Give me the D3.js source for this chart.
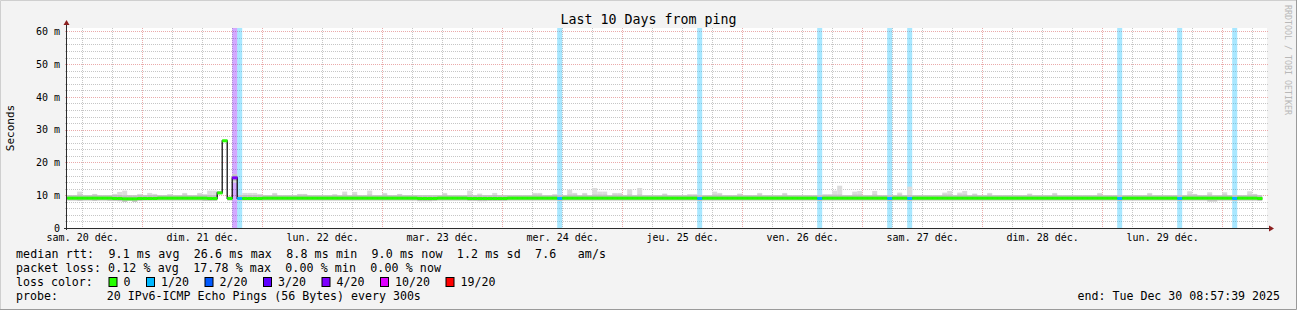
<!DOCTYPE html>
<html>
<head>
<meta charset="utf-8">
<script src="https://cdn.jsdelivr.net/npm/d3@7"></script>
<style>
  body { margin: 0; background: #f3f3f3; }
  svg text { white-space: pre; }
</style>
</head>
<body>
<div id="chart"></div>
<script>
// Graph window (server local time, handled as UTC)
const graphStart = Date.UTC(2025, 11, 20, 8, 57, 39);
const graphEnd = Date.UTC(2025, 11, 30, 8, 57, 39);
const firstStep = Date.UTC(2025, 11, 20, 9); // hourly consolidated steps

// Median rtt per hour, ms (one row per day)
const medianRtt = [
  9.1, 9.1, 9.1, 9.1, 9.1, 9.1, 9.1, 9.1, 9.1, 9.0, 9.0, 8.9, 8.9, 8.9, 9.0,
  9.0, 9.0, 9.0, 9.1, 9.1, 9.1, 9.1, 9.1, 9.1, 9.1, 9.1, 9.1, 9.1, 9.0, 9.0, 10.7, 26.6, 9.0, 15.3, 9.0, 9.0, 9.0, 9.0, 9.0,
  9.1, 9.1, 9.1, 9.1, 9.1, 9.1, 9.1, 9.1, 9.1, 9.1, 9.1, 9.1, 9.1, 9.1, 9.1, 9.1, 9.1, 9.1, 9.1, 9.1, 9.1, 9.1, 9.1, 9.1,
  9.1, 9.1, 9.1, 9.1, 9.1, 9.1, 9.1, 9.0, 9.0, 9.0, 9.0, 9.1, 9.1, 9.1, 9.1, 9.1, 9.1, 9.0, 9.0, 9.0, 9.0, 9.0, 9.0, 9.0,
  9.0, 9.1, 9.1, 9.1, 9.1, 9.1, 9.1, 9.1, 9.1, 9.1, 9.1, 9.0, 9.1, 9.1, 9.1, 9.1, 9.1, 9.1, 9.1, 9.1, 9.1, 9.1, 9.1, 9.1,
  9.1, 9.1, 9.1, 9.1, 9.1, 9.1, 9.1, 9.1, 9.1, 9.1, 9.1, 9.1, 9.1, 9.1, 9.1, 9.0, 9.1, 9.1, 9.1, 9.1, 9.1, 9.1, 9.1, 9.1,
  9.1, 9.1, 9.1, 9.1, 9.1, 9.1, 9.1, 9.1, 9.1, 9.1, 9.1, 9.1, 9.1, 9.1, 9.1, 9.0, 9.1, 9.1, 9.1, 9.1, 9.1, 9.1, 9.1, 9.1,
  9.1, 9.1, 9.1, 9.1, 9.1, 9.0, 9.1, 9.1, 9.1, 9.0, 9.1, 9.1, 9.1, 9.1, 9.1, 9.1, 9.1, 9.1, 9.1, 9.1, 9.1, 9.1, 9.1, 9.1,
  9.1, 9.1, 9.1, 9.1, 9.1, 9.1, 9.1, 9.1, 9.1, 9.1, 9.1, 9.1, 9.1, 9.1, 9.1, 9.1, 9.1, 9.1, 9.1, 9.1, 9.1, 9.1, 9.1, 9.1,
  9.1, 9.1, 9.1, 9.0, 9.1, 9.1, 9.1, 9.1, 9.1, 9.1, 9.1, 9.1, 9.1, 9.1, 9.1, 9.0, 9.1, 9.1, 9.1, 9.1, 9.1, 9.1, 9.1, 9.1,
  9.1, 9.1, 9.0, 9.1, 9.1, 9.1, 9.1, 9.0
];

// Smoke: highest and lowest ping per hour, ms
const smokeMax = [
  10.0, 10.0, 11.1, 10.0, 10.0, 10.4, 10.0, 10.0, 10.0, 10.4, 11.0, 11.4, 10.0, 10.0, 10.4,
  10.0, 10.7, 10.4, 10.0, 10.0, 10.2, 10.0, 10.0, 10.7, 10.0, 10.0, 10.7, 10.2, 11.4, 11.4, 11.2, 26.9, 9.6, 16.4, 10.0, 10.7, 10.7, 10.7, 10.4,
  10.0, 10.0, 10.7, 10.0, 10.0, 10.0, 10.0, 10.4, 10.4, 10.0, 10.0, 10.0, 10.0, 10.0, 10.2, 10.0, 11.1, 10.0, 11.0, 10.0, 10.0, 11.4, 10.0, 10.0,
  10.7, 10.0, 10.0, 10.4, 10.0, 10.0, 10.0, 10.0, 10.0, 10.0, 10.0, 10.0, 10.7, 10.0, 10.0, 10.0, 10.0, 11.4, 10.0, 10.5, 10.0, 10.0, 10.7, 10.0,
  10.0, 10.0, 10.0, 10.0, 10.0, 10.0, 10.7, 10.7, 10.0, 10.0, 10.2, 10.0, 10.0, 11.7, 10.7, 10.0, 10.7, 10.0, 12.2, 11.1, 11.1, 10.0, 10.7, 10.7,
  10.0, 11.9, 10.0, 12.2, 10.0, 10.0, 10.0, 10.0, 10.5, 10.0, 10.0, 10.0, 10.0, 10.2, 10.2, 10.0, 10.0, 10.0, 11.1, 10.7, 10.0, 10.0, 10.0, 10.5,
  10.0, 10.0, 10.0, 10.7, 10.0, 10.0, 10.0, 10.0, 10.7, 10.0, 10.0, 10.0, 10.0, 10.0, 10.0, 10.0, 10.2, 10.2, 11.4, 12.9, 10.0, 10.0, 11.1, 11.3,
  10.0, 10.0, 11.3, 10.0, 10.0, 10.0, 10.0, 10.8, 10.0, 12.6, 10.0, 10.0, 10.0, 10.0, 10.0, 10.0, 10.8, 11.3, 10.0, 10.8, 11.3, 10.0, 10.5, 10.0,
  10.0, 10.7, 10.0, 10.0, 10.0, 10.0, 10.0, 10.0, 10.0, 10.5, 10.0, 10.0, 10.0, 10.0, 10.7, 10.0, 10.0, 10.0, 10.0, 10.0, 10.0, 10.0, 10.0, 10.7,
  10.0, 10.0, 10.0, 10.0, 10.0, 10.0, 10.0, 10.0, 10.0, 10.7, 10.0, 10.0, 10.0, 10.0, 10.0, 10.0, 10.0, 11.2, 10.4, 10.0, 10.0, 10.9, 10.0, 10.0,
  10.9, 10.0, 10.0, 10.0, 10.0, 11.2, 10.4, 10.0
];

const smokeMin = [
  8.4, 8.4, 8.3, 8.4, 8.4, 8.3, 8.4, 8.4, 8.3, 8.3, 8.2, 8.0, 8.3, 8.0, 8.3,
  8.4, 8.4, 8.4, 8.4, 8.4, 8.4, 8.4, 8.4, 8.4, 8.4, 8.4, 8.4, 8.3, 8.3, 8.3, 10.4, 26.3, 8.4, 13.8, 8.4, 8.4, 8.4, 8.4, 8.4,
  8.4, 8.4, 8.4, 8.4, 8.4, 8.4, 8.4, 8.4, 8.4, 8.4, 8.4, 8.4, 8.4, 8.4, 8.4, 8.4, 8.4, 8.4, 8.4, 8.4, 8.4, 8.4, 8.4, 8.4,
  8.4, 8.4, 8.4, 8.4, 8.4, 8.4, 8.4, 8.2, 8.2, 8.2, 8.3, 8.4, 8.4, 8.4, 8.4, 8.4, 8.4, 8.3, 8.3, 8.2, 8.2, 8.3, 8.3, 8.3,
  8.3, 8.4, 8.4, 8.4, 8.4, 8.4, 8.4, 8.4, 8.4, 8.4, 8.4, 8.3, 8.4, 8.4, 8.4, 8.4, 8.4, 8.4, 8.4, 8.4, 8.4, 8.4, 8.4, 8.4,
  8.4, 8.4, 8.4, 8.4, 8.4, 8.4, 8.4, 8.4, 8.4, 8.4, 8.4, 8.4, 8.4, 8.4, 8.4, 8.3, 8.4, 8.4, 8.4, 8.4, 8.4, 8.4, 8.4, 8.4,
  8.4, 8.4, 8.4, 8.4, 8.4, 8.4, 8.4, 8.4, 8.4, 8.4, 8.4, 8.4, 8.4, 8.4, 8.4, 8.3, 8.4, 8.4, 8.4, 8.4, 8.4, 8.4, 8.4, 8.4,
  8.4, 8.4, 8.4, 8.4, 8.4, 8.3, 8.4, 8.4, 8.4, 8.3, 8.4, 8.4, 8.4, 8.4, 8.4, 8.4, 8.4, 8.4, 8.4, 8.4, 8.4, 8.4, 8.4, 8.4,
  8.4, 8.4, 8.4, 8.4, 8.4, 8.4, 8.4, 8.4, 8.4, 8.4, 8.4, 8.4, 8.4, 8.4, 8.4, 8.4, 8.4, 8.4, 8.4, 8.4, 8.4, 8.4, 8.4, 8.4,
  8.4, 8.4, 8.4, 8.3, 8.4, 8.4, 8.4, 8.4, 8.4, 8.4, 8.4, 8.4, 8.4, 8.4, 8.4, 8.3, 8.4, 8.4, 8.4, 8.4, 8.4, 8.0, 8.0, 8.4,
  8.4, 8.4, 8.3, 8.4, 8.4, 8.4, 8.4, 8.3
];

// Hours with packet loss and the number of pings lost (of 20)
const lossTimes = [
  "2025-12-21T18:00", "2025-12-21T19:00", "2025-12-24T11:00", "2025-12-25T15:00",
  "2025-12-26T15:00", "2025-12-27T05:00", "2025-12-27T09:00", "2025-12-29T03:00",
  "2025-12-29T15:00", "2025-12-30T02:00"
];
const lossPings = [4, 1, 1, 1, 1, 1, 1, 1, 1, 1];

const lossLabels = ["0", "1/20", "2/20", "3/20", "4/20", "10/20", "19/20"];
const lossColors = ["#26ff00", "#00b8ff", "#0059ff", "#5e00ff", "#7e00ff", "#dd00ff", "#ff0000"];

const yTickValues = [0, 10, 20, 30, 40, 50, 60];
const yTickLabels = ["0", "10 m", "20 m", "30 m", "40 m", "50 m", "60 m"];
const dayLabels = ["sam. 20 déc.", "dim. 21 déc.", "lun. 22 déc.", "mar. 23 déc.", "mer. 24 déc.",
  "jeu. 25 déc.", "ven. 26 déc.", "sam. 27 déc.", "dim. 28 déc.", "lun. 29 déc."];

const statLines = [
  "median rtt:  9.1 ms avg  26.6 ms max  8.8 ms min  9.0 ms now  1.2 ms sd  7.6   am/s",
  "packet loss: 0.12 % avg  17.78 % max  0.00 % min  0.00 % now"
];
const statWidths = [590, 425];
const probeLine = "probe:       20 IPv6-ICMP Echo Pings (56 Bytes) every 300s";
const endLine = "end: Tue Dec 30 08:57:39 2025";

// Layout
const W = 1297, H = 310;
const plot = { left: 67, right: 1267, top: 28, bottom: 228 };
const mono = "'DejaVu Sans Mono', monospace";

function lossClass(n) {
  if (n <= 0) return 0;
  if (n <= 3) return n;
  if (n <= 9) return 4;
  if (n <= 18) return 5;
  return 6;
}

const svg = d3.select("#chart").append("svg")
  .attr("width", W).attr("height", H)
  .style("display", "block");

// background + frame
svg.append("rect").attr("width", W).attr("height", H).attr("fill", "#f3f3f3");
svg.append("path").attr("d", `M0.5,${H} V0.5 H${W}`).attr("stroke", "#cfcfcf").attr("fill", "none");
svg.append("path").attr("d", `M0,${H - 0.5} H${W - 0.5} V0`).attr("stroke", "#9a9a9a").attr("fill", "none");

const x = d3.scaleUtc().domain([graphStart, graphEnd]).range([plot.left, plot.right]);
const y = d3.scaleLinear().domain([0, 61]).range([plot.bottom, plot.top]);

svg.append("rect")
  .attr("x", plot.left).attr("y", plot.top)
  .attr("width", plot.right - plot.left).attr("height", plot.bottom - plot.top)
  .attr("fill", "#ffffff");

// grid
const grid = svg.append("g");
const minorCol = "#c6c6c6", majorCol = "#eaaaaa";
const minorY = d3.range(0, 61, 2).filter(v => v % 10 !== 0);
grid.selectAll(".hmin").data(minorY).join("line")
  .attr("x1", plot.left - 2).attr("x2", plot.right + 2)
  .attr("y1", d => Math.round(y(d)) + 0.5).attr("y2", d => Math.round(y(d)) + 0.5)
  .attr("stroke", minorCol).attr("stroke-dasharray", "1,1");
const sixHours = d3.utcHour.every(6).range(new Date(graphStart), new Date(graphEnd))
  .filter(d => d.getUTCHours() !== 0);
grid.selectAll(".vmin").data(sixHours).join("line")
  .attr("x1", d => Math.round(x(d)) + 0.5).attr("x2", d => Math.round(x(d)) + 0.5)
  .attr("y1", plot.top).attr("y2", plot.bottom + 2)
  .attr("stroke", minorCol).attr("stroke-dasharray", "1,1");
grid.selectAll(".hmaj").data(yTickValues.slice(1)).join("line")
  .attr("x1", plot.left - 2).attr("x2", plot.right + 2)
  .attr("y1", d => Math.round(y(d)) + 0.5).attr("y2", d => Math.round(y(d)) + 0.5)
  .attr("stroke", majorCol).attr("stroke-dasharray", "1,1");
const midnights = d3.utcDay.range(new Date(graphStart), new Date(graphEnd));
grid.selectAll(".vmaj").data(midnights).join("line")
  .attr("x1", d => Math.round(x(d)) + 0.5).attr("x2", d => Math.round(x(d)) + 0.5)
  .attr("y1", plot.top).attr("y2", plot.bottom + 2)
  .attr("stroke", majorCol).attr("stroke-dasharray", "1,1");

// hourly records
const steps = medianRtt.map((m, i) => ({
  t0: d3.utcHour.offset(new Date(firstStep), i),
  t1: d3.utcHour.offset(new Date(firstStep), i + 1),
  median: m, hi: smokeMax[i], lo: smokeMin[i], lost: 0
}));
lossTimes.forEach((t, i) => {
  const d = new Date(t + ":00Z");
  const s = steps.find(s => +s.t0 === +d);
  if (s) s.lost = lossPings[i];
});

// loss background bars
svg.append("g").selectAll("rect").data(steps.filter(s => s.lost > 0)).join("rect")
  .attr("x", s => x(s.t0)).attr("width", s => x(s.t1) - x(s.t0))
  .attr("y", plot.top).attr("height", plot.bottom - plot.top)
  .attr("fill", s => lossColors[lossClass(s.lost)]).attr("fill-opacity", 0.34);

// smoke
const smoke = svg.append("g");
smoke.selectAll(".outer").data(steps).join("rect")
  .attr("x", s => x(s.t0)).attr("width", s => x(s.t1) - x(s.t0))
  .attr("y", s => y(s.hi)).attr("height", s => y(s.lo) - y(s.hi))
  .attr("fill", "#dcdcdc");
smoke.selectAll(".inner").data(steps).join("rect")
  .attr("x", s => x(s.t0)).attr("width", s => x(s.t1) - x(s.t0))
  .attr("y", s => Math.max(y(s.hi), y(s.median) - 3.5))
  .attr("height", s => Math.min(y(s.lo), y(s.median) + 3) - Math.max(y(s.hi), y(s.median) - 3.5))
  .attr("fill", "#c0c0c0");

// median step line (black) with loss-coloured bands on top
const line = d3.line()
  .x(d => x(d.t))
  .y(d => y(d.v))
  .curve(d3.curveStepAfter);
const linePts = steps.map(s => ({ t: s.t0, v: s.median }));
linePts.push({ t: steps[steps.length - 1].t1, v: steps[steps.length - 1].median });
svg.append("path").datum(linePts)
  .attr("d", line).attr("fill", "none").attr("stroke", "#000").attr("stroke-width", 1.2);

svg.append("g").selectAll("rect").data(steps).join("rect")
  .attr("x", s => x(s.t0)).attr("width", s => x(s.t1) - x(s.t0) + 0.3)
  .attr("y", s => y(s.median) - 1.5).attr("height", 3)
  .attr("fill", s => lossColors[lossClass(s.lost)]);

// axes lines and arrows
const axisCol = "#2c2c2c", arrowCol = "#8b1f1f";
svg.append("line").attr("x1", plot.left - 0.5).attr("x2", plot.left - 0.5)
  .attr("y1", plot.bottom + 2).attr("y2", plot.top - 5).attr("stroke", axisCol);
svg.append("line").attr("x1", plot.left - 3).attr("x2", plot.right + 3)
  .attr("y1", plot.bottom + 0.5).attr("y2", plot.bottom + 0.5).attr("stroke", axisCol);
svg.append("path")
  .attr("d", `M${plot.left - 3.5},${plot.top - 3} L${plot.left - 0.5},${plot.top - 8} L${plot.left + 2.5},${plot.top - 3} Z`)
  .attr("fill", arrowCol);
svg.append("path")
  .attr("d", `M${plot.right + 2},${plot.bottom - 2.5} L${plot.right + 7},${plot.bottom + 0.5} L${plot.right + 2},${plot.bottom + 3.5} Z`)
  .attr("fill", arrowCol);

// axis labels via d3 axes
const yAxis = d3.axisLeft(y).tickValues(yTickValues)
  .tickFormat((d, i) => yTickLabels[i]).tickSize(0).tickPadding(7);
svg.append("g").attr("transform", `translate(${plot.left},0)`).call(yAxis)
  .call(g => g.select(".domain").remove())
  .selectAll("text").attr("font-family", mono).attr("font-size", 10).attr("fill", "#000");

const noons = dayLabels.map((_, i) => d3.utcHour.offset(new Date(Date.UTC(2025, 11, 20, 12)), 24 * i));
const xAxis = d3.axisBottom(x).tickValues(noons)
  .tickFormat((d, i) => dayLabels[i]).tickSize(0).tickPadding(6);
svg.append("g").attr("transform", `translate(0,${plot.bottom})`).call(xAxis)
  .call(g => g.select(".domain").remove())
  .selectAll("text").attr("font-family", mono).attr("font-size", 10).attr("fill", "#000");

// title, axis title, watermark
svg.append("text").attr("x", W / 2).attr("y", 23.5).attr("text-anchor", "middle")
  .attr("font-family", mono).attr("font-size", 13.3).attr("fill", "#000")
  .text("Last 10 Days from ping");
svg.append("text").attr("transform", `translate(14,${(plot.top + plot.bottom) / 2}) rotate(-90)`)
  .attr("text-anchor", "middle").attr("font-family", mono).attr("font-size", 11).attr("fill", "#000")
  .text("Seconds");
svg.append("text").attr("transform", "translate(1285,5) rotate(90)")
  .attr("font-family", mono).attr("font-size", 8.3).attr("fill", "#b8b8b8")
  .text("RRDTOOL / TOBI OETIKER");

// legend block
const legend = svg.append("g").attr("font-family", mono).attr("font-size", 11.6).attr("fill", "#000");
statLines.forEach((s, i) => {
  legend.append("text").attr("x", 16).attr("y", 258 + 14 * i)
    .attr("textLength", statWidths[i]).attr("lengthAdjust", "spacing").text(s);
});
legend.append("text").attr("x", 16).attr("y", 286).text("loss color:");
let bx = 108.5;
lossLabels.forEach((lab, i) => {
  legend.append("rect").attr("x", bx + 0.5).attr("y", 277.5).attr("width", 8).attr("height", 9)
    .attr("fill", lossColors[i]).attr("stroke", "#000");
  legend.append("text").attr("x", bx + 15).attr("y", 286).text(lab);
  bx += 30.5 + 7 * lab.length;
});
legend.append("text").attr("x", 16).attr("y", 300).text(probeLine);
legend.append("text").attr("x", 1280).attr("y", 300).attr("text-anchor", "end").text(endLine);
</script>
</body>
</html>
